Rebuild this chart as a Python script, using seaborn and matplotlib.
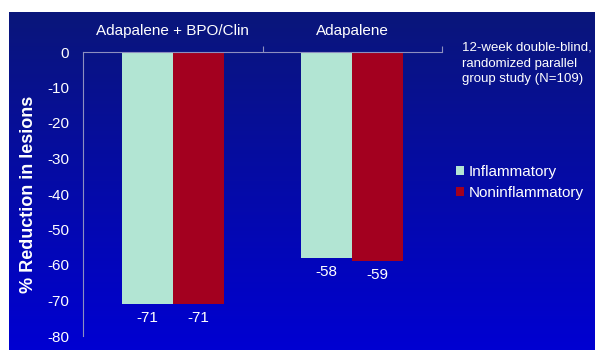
import numpy as np
import pandas as pd
import matplotlib
matplotlib.use("Agg")
import matplotlib.pyplot as plt
from matplotlib.patches import Patch
import seaborn as sns

# Data
groups = ["Adapalene + BPO/Clin", "Adapalene"]
lesion_types = ["Inflammatory", "Noninflammatory"]
inflammatory = [-71, -58]
noninflammatory = [-71, -59]
y_ticks = [0, -10, -20, -30, -40, -50, -60, -70, -80]
study_note = "12-week double-blind,\nrandomized parallel\ngroup study (N=109)"

colors = {"Inflammatory": "#b2e5d3", "Noninflammatory": "#a3001f"}

df = pd.DataFrame({
    "group": groups * 2,
    "type": [lesion_types[0]] * len(groups) + [lesion_types[1]] * len(groups),
    "value": inflammatory + noninflammatory,
})

sns.set_theme(style="white")
plt.rcParams["font.family"] = ["Liberation Sans", "DejaVu Sans"]

W, H = 597, 350
fig = plt.figure(figsize=(W / 100, H / 100), dpi=100)
fig.patch.set_facecolor("white")

# Blue gradient slide background
bg = fig.add_axes([9 / W, 0, (W - 11) / W, (H - 12) / H], zorder=0)
top = np.array([0x0a, 0x16, 0x7a]) / 255
bottom = np.array([0x00, 0x00, 0xd2]) / 255
t = np.linspace(0, 1, 256)[:, None]
grad = top[None, :] * (1 - t) + bottom[None, :] * t
grad = np.repeat(grad[:, None, :], 2, axis=1)
bg.imshow(grad, aspect="auto", extent=[0, 1, 0, 1], interpolation="bilinear")
bg.set_axis_off()

ax = fig.add_axes([83 / W, 1 - 336 / H, (442 - 83) / W, (336 - 52) / H], zorder=1)
ax.set_facecolor("none")

sns.barplot(data=df, x="group", y="value", hue="type", order=groups,
            hue_order=lesion_types, palette=colors, width=0.57,
            saturation=1, ax=ax, legend=False, edgecolor="none", linewidth=0)

ax.set_xlim(-0.5, 1.5)
ax.set_ylim(-80, 0)
ax.set_yticks(y_ticks)
ax.set_yticklabels([str(v) for v in y_ticks], color="white", fontsize=11)

# Group names above the top spine
ax.xaxis.tick_top()
ax.set_xticks(range(len(groups)))
ax.set_xticklabels(groups, color="white", fontsize=11)
ax.tick_params(axis="x", which="major", length=0, pad=10)
ax.set_xticks([0.5, 1.5], minor=True)
ax.tick_params(axis="x", which="minor", length=4, color="#8d8fbf", width=0.8,
               direction="out")
ax.tick_params(axis="y", length=4, color="#8d8fbf", width=0.8, pad=6)
ax.set_xlabel("")
ax.set_ylabel("% Reduction in lesions", color="white", fontsize=13,
              fontweight="bold", labelpad=7)

for side in ["right", "bottom"]:
    ax.spines[side].set_visible(False)
for side in ["top", "left"]:
    ax.spines[side].set_color("#8d8fbf")
    ax.spines[side].set_linewidth(0.8)

for container in ax.containers:
    ax.bar_label(container, labels=[f"{v:.0f}" for v in container.datavalues],
                 color="white", fontsize=11, padding=5)

handles = [Patch(facecolor=colors[k], edgecolor="none") for k in lesion_types]
fig.legend(handles, lesion_types, loc="upper left",
           bbox_to_anchor=(456 / W, 1 - 165 / H), frameon=False,
           fontsize=11, labelcolor="white", handlelength=0.55,
           handleheight=0.55, handletextpad=0.3, labelspacing=0.45,
           borderaxespad=0, borderpad=0)

fig.text(462 / W, 1 - 42 / H, study_note, color="white", fontsize=9.5,
         va="top", ha="left", linespacing=1.4)

fig.savefig("out.png", dpi=100, facecolor=fig.get_facecolor())
